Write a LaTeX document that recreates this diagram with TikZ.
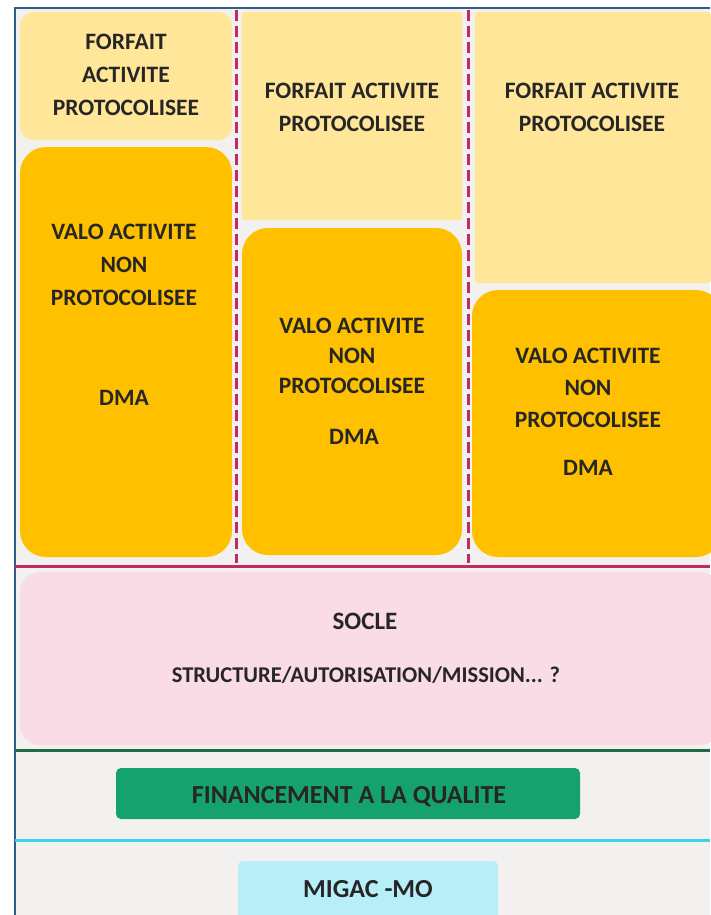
\documentclass[tikz,border=0pt]{standalone}
\usepackage{fontspec}
\setmainfont{Carlito}
\usepackage{tikz}
\definecolor{framblue}{HTML}{2F5C88}
\definecolor{bggrey}{HTML}{F3F1EF}
\definecolor{forfaitcol}{HTML}{FFE699}
\definecolor{valocol}{HTML}{FFC000}
\definecolor{soclecol}{HTML}{F9DCE5}
\definecolor{crimson}{HTML}{C02B66}
\definecolor{darkgreen}{HTML}{1E6B46}
\definecolor{qualcol}{HTML}{16A26E}
\definecolor{cyanline}{HTML}{40CFEE}
\definecolor{migaccol}{HTML}{B7EEF8}

\begin{document}
\begin{tikzpicture}
  [x=1pt,y=-1pt,
   box/.style={anchor=north west,inner sep=0pt,outer sep=0pt},
   lbl/.style={align=center,inner sep=0pt,text=black!85,font=\bfseries\fontsize{23.5}{33}\selectfont},
   sep/.style={line width=3pt}]

  \useasboundingbox (0,0) rectangle (710,915);
  \fill[white] (0,0) rectangle (710,915);
  \fill[bggrey] (15,8) rectangle (710,915);
  \draw[framblue,line width=2pt] (15,915) -- (15,8) -- (710,8);

  % forfait boxes
  \node[box,fill=forfaitcol,rounded corners=14pt,minimum width=212pt,minimum height=128pt] (f1) at (20,12) {};
  \node[box,fill=forfaitcol,rounded corners=3pt,minimum width=220pt,minimum height=208pt] (f2) at (242,12) {};
  \node[box,fill=forfaitcol,rounded corners=3pt,minimum width=236pt,minimum height=271pt] (f3) at (475,12) {};
  % valo boxes
  \node[box,fill=valocol,rounded corners=26pt,minimum width=212pt,minimum height=410pt] (v1) at (20,147) {};
  \node[box,fill=valocol,rounded corners=26pt,minimum width=220pt,minimum height=327pt] (v2) at (242,228) {};
  \node[box,fill=valocol,rounded corners=26pt,minimum width=250pt,minimum height=267pt] (v3) at (472,290) {};

  % dashed separators
  \coordinate (d1a) at (236,10);
  \coordinate (d1b) at (236,563);
  \coordinate (d2a) at (468,10);
  \coordinate (d2b) at (468,563);
  \foreach \from/\to in {d1a/d1b,d2a/d2b}
    \draw[crimson,line width=3pt,dash pattern=on 11pt off 5pt] (\from) -- (\to);

  % lower bands
  \coordinate (l1a) at (15,566);
  \coordinate (l1b) at (710,566);
  \draw[sep,crimson] (l1a) -- (l1b);
  \node[box,fill=soclecol,rounded corners=20pt,minimum width=700pt,minimum height=173pt] (socle) at (20,572) {};
  \coordinate (l2a) at (15,750);
  \coordinate (l2b) at (710,750);
  \draw[sep,darkgreen] (l2a) -- (l2b);
  \node[box,fill=qualcol,rounded corners=5pt,minimum width=464pt,minimum height=51pt] (qual) at (116,768) {};
  \coordinate (l3a) at (15,840);
  \coordinate (l3b) at (710,840);
  \draw[sep,cyanline] (l3a) -- (l3b);
  \node[box,fill=migaccol,rounded corners=5pt,minimum width=260pt,minimum height=60pt] (migac) at (238,861) {};

  % labels
  \node[lbl] (t1) at (126,75) {FORFAIT\\ACTIVITE\\PROTOCOLISEE};
  \node[lbl] (t2) at (352,107) {FORFAIT ACTIVITE\\PROTOCOLISEE};
  \node[lbl] (t3) at (592,107) {FORFAIT ACTIVITE\\PROTOCOLISEE};
  \node[lbl] (t4) at (124,265) {VALO ACTIVITE\\NON\\PROTOCOLISEE};
  \node[lbl] (t5) at (124,398) {DMA};
  \node[lbl,font=\bfseries\fontsize{23.5}{30}\selectfont] (t6) at (352,356) {VALO ACTIVITE\\NON\\PROTOCOLISEE};
  \node[lbl] (t7) at (354,437) {DMA};
  \node[lbl,font=\bfseries\fontsize{23.5}{32}\selectfont] (t8) at (588,388) {VALO ACTIVITE\\NON\\PROTOCOLISEE};
  \node[lbl] (t9) at (588,468) {DMA};
  \node[lbl,font=\bfseries\fontsize{25}{30}\selectfont] (t10) at (365,621) {SOCLE};
  \node[lbl,font=\bfseries\fontsize{22.5}{26}\selectfont] (t11) at (366,675) {STRUCTURE/AUTORISATION/MISSION... ?};
  \node[lbl,font=\bfseries\fontsize{26}{30}\selectfont] (t12) at (349,797) {FINANCEMENT A LA QUALITE};
  \node[lbl,font=\bfseries\fontsize{26}{30}\selectfont] (t13) at (368,889) {MIGAC -MO};
\end{tikzpicture}
\end{document}
